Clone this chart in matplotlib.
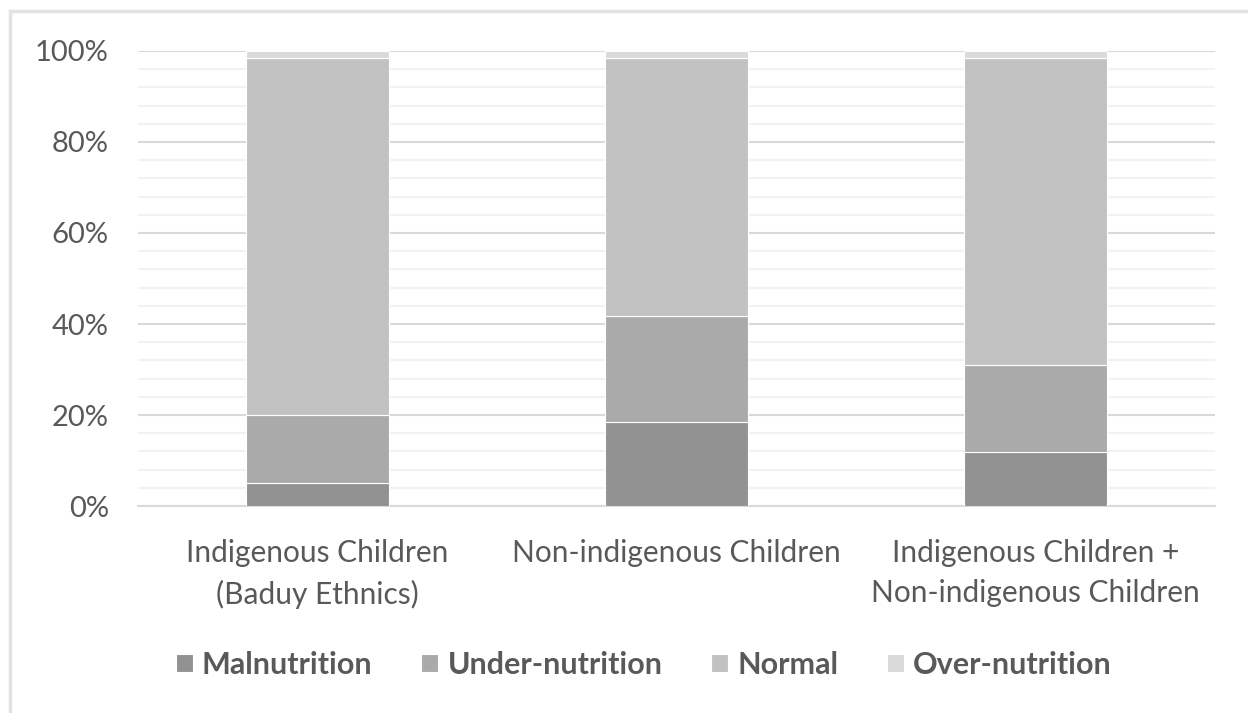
import numpy as np
import matplotlib.pyplot as plt
from matplotlib.patches import Rectangle
from matplotlib.ticker import MultipleLocator, PercentFormatter

plt.rcParams['font.family'] = ['Lato', 'DejaVu Sans']

# data (percent of children)
categories = ["Indigenous Children\n(Baduy Ethnics)",
              "Non-indigenous Children",
              "Indigenous Children +\nNon-indigenous Children"]
series = ["Malnutrition", "Under-nutrition", "Normal", "Over-nutrition"]
malnutrition = [5.1, 18.5, 11.9]
under_nutrition = [14.9, 23.3, 19.1]
normal = [78.5, 56.7, 67.5]
over_nutrition = [1.5, 1.5, 1.5]
colors = ["#929292", "#aaaaaa", "#c2c2c2", "#dadada"]

fig = plt.figure(figsize=(12.48, 7.13), dpi=100)
ax = fig.add_axes([0.1106, 0.2903, 0.8630, 0.6382])

# outer chart border
fig.patches.append(Rectangle((10 / 1248, -0.1), 1.2, 1 - 11 / 713 + 0.1,
                             transform=fig.transFigure, fill=False,
                             edgecolor="#e3e3e3", linewidth=2.5))

x = np.arange(len(categories))
bottom = np.zeros(len(categories))
for name, vals, c in zip(series, [malnutrition, under_nutrition, normal, over_nutrition], colors):
    ax.bar(x, vals, 0.4, bottom=bottom, color=c, label=name,
           edgecolor="white", linewidth=0.8, zorder=3)
    bottom += np.array(vals)

ax.set_xlim(-0.5, 2.5)
ax.set_ylim(0, 100)
ax.yaxis.set_major_locator(MultipleLocator(20))
ax.yaxis.set_minor_locator(MultipleLocator(4))
ax.yaxis.set_major_formatter(PercentFormatter(decimals=0))
ax.grid(axis="y", which="major", color="#d9d9d9", linewidth=1.5, zorder=0)
ax.grid(axis="y", which="minor", color="#f2f2f2", linewidth=1.5, zorder=0)
for s in ["top", "right", "left"]:
    ax.spines[s].set_visible(False)
ax.spines["bottom"].set_color("#d9d9d9")
ax.spines["bottom"].set_linewidth(1.5)
ax.tick_params(axis="y", which="both", length=0, pad=21, labelsize=21, labelcolor="#595959")
ax.tick_params(axis="x", length=0, pad=24, labelsize=21.5, labelcolor="#595959")
ax.set_xticks(x)
ax.set_xticklabels(categories, linespacing=1.5)

leg = fig.legend(loc="center", bbox_to_anchor=(0.516, 1 - 665 / 713), ncol=4,
                 frameon=False, handlelength=0.55, handleheight=0.55,
                 handletextpad=0.3, columnspacing=1.6,
                 prop={"size": 22, "weight": "bold"})
for t in leg.get_texts():
    t.set_color("#595959")

fig.savefig("out.png", dpi=100)
